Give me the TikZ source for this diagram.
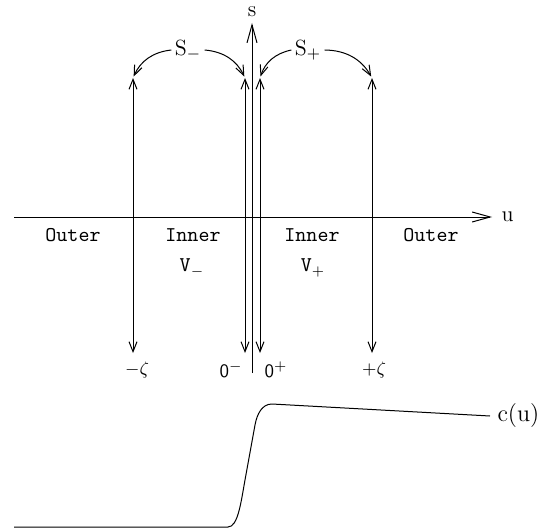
\documentclass[tikz,border=0pt]{standalone}
\usetikzlibrary{arrows.meta, positioning}

\begin{document}
\begin{tikzpicture}[x=0.5pt, y=-0.5pt, line width=0.5pt,
    axis/.style={-{Straight Barb[length=9pt,width=5pt]}},
    span/.style={{Straight Barb[length=5pt,width=4pt]}-{Straight Barb[length=5pt,width=4pt]}},
    bendarrow/.style={-{Straight Barb[length=5pt,width=4pt]}, shorten >=0.8pt},
    region/.style={font=\ttfamily\fontsize{10.5}{12}\selectfont, inner sep=1pt},
    rmlabel/.style={font=\fontsize{11}{13}\selectfont, inner sep=1.5pt},
    endlabel/.style={font=\sffamily\fontsize{9.5}{11}\selectfont, inner sep=1pt}]
  \useasboundingbox (0,0) rectangle (550,529);

  % axes
  \coordinate (uL) at (14,217);
  \coordinate (uR) at (492,217);
  \draw[axis] (uL) -- (uR);
  \node[rmlabel, right=3pt of uR] (u) {u};
  \coordinate (sB) at (252,373);
  \coordinate (sT) at (252,23);
  \draw[axis] (sB) -- (sT);
  \node[rmlabel, above=1.5pt of sT] (s) {s};

  % surfaces
  \foreach \name/\x in {mz/133, zm/245, zp/260, pz/372} {
    \coordinate (\name T) at (\x,78);
    \coordinate (\name B) at (\x,353);
    \draw[span] (\name B) -- (\name T);
  }
  \node[endlabel] (mzl) at (137,370) {$-\zeta$};
  \node[endlabel, anchor=east] (zml) at (245,370) {0$^-$};
  \node[endlabel, anchor=west] (zpl) at (262,370) {0$^+$};
  \node[endlabel] (pzl) at (374,370) {$+\zeta$};

  \node[rmlabel] (Sm) at (188,50) {S$_-$};
  \draw[bendarrow] (Sm.west) to[bend right=30] (mzT);
  \draw[bendarrow] (Sm.east) to[bend left=30] (zmT);
  \node[rmlabel] (Sp) at (308,50) {S$_+$};
  \draw[bendarrow] (Sp.west) to[bend right=30] (zpT);
  \draw[bendarrow] (Sp.east) to[bend left=30] (pzT);

  % regions
  \node[region] (outL) at (73,235) {Outer};
  \node[region] (inL) at (193,235) {Inner};
  \node[region] (Vm) at (192,268) {V$_-$};
  \node[region] (inR) at (312,235) {Inner};
  \node[region] (Vp) at (313,268) {V$_+$};
  \node[region] (outR) at (431,235) {Outer};

  % profile
  \coordinate (c0) at (14,527);
  \coordinate (cR) at (490,416);
  \draw (c0) -- (228,527) .. controls (238,527) and (241,502) .. (245,480)
    -- (255,425) .. controls (257,414) and (262,404) .. (272,404) -- (cR);
  \node[rmlabel, font=\fontsize{12}{14}\selectfont, right=2pt of cR] (cu) {c(u)};
\end{tikzpicture}
\end{document}
